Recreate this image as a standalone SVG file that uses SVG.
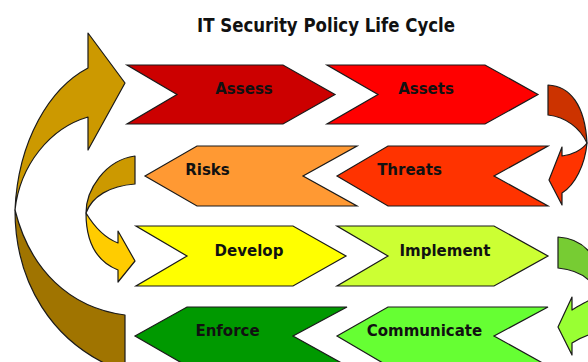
<svg xmlns="http://www.w3.org/2000/svg" width="588" height="362" viewBox="0 0 588 362">
  <style>
    .step { stroke: #1a1a1a; stroke-width: 1.2; stroke-linejoin: miter; }
    .curve { stroke: #1a1a1a; stroke-width: 1.2; stroke-linejoin: round; }
    .label { font-family: "DejaVu Sans", Verdana, sans-serif; font-weight: bold; font-size: 15px; fill: #111; text-anchor: middle; }
    .title { font-family: "DejaVu Sans", Verdana, sans-serif; font-weight: bold; font-size: 19px; fill: #111; text-anchor: middle; }
  </style>
  <rect width="588" height="362" fill="#ffffff"/>

  <text class="title" x="326" y="32" textLength="258" lengthAdjust="spacingAndGlyphs">IT Security Policy Life Cycle</text>

  <!-- curved connectors between rows -->
  <g id="connectors">
    <!-- big return arrow on the left: Enforce back to Assess -->
    <path class="curve" fill="#cc9900" d="M88,68 L88,33 L125,83 L88,150 L88,117 C50,128 20,165 15,210 C18,140 50,88 88,68 Z"/>
    <path class="curve" fill="#a07400" d="M15,210 C15,280 50,345 125,372 L125,315 C70,308 30,270 15,210 Z"/>
    <!-- Risks to Develop -->
    <path class="curve" fill="#cc9900" d="M135,156 L135,184 C110,186 92,196 86,213 C86,190 105,160 135,156 Z"/>
    <path class="curve" fill="#ffcc00" d="M86,213 C95,228 105,238 118,243 L118,231 L135,261 L118,282 L118,270 C98,262 86,245 86,213 Z"/>
    <!-- Assets to Threats -->
    <path class="curve" fill="#cc3300" d="M548,85 C570,86 585,105 587,143 C580,128 566,117 548,115 Z"/>
    <path class="curve" fill="#ff3300" d="M587,143 C585,165 575,185 562,193 L562,205 L549,180 L562,147 L562,156 C572,155 582,150 587,143 Z"/>
    <!-- Implement to Communicate -->
    <path class="curve" fill="#77cc33" d="M558,237 C575,238 588,246 596,262 L596,290 C590,278 578,270 558,268 Z"/>
    <path class="curve" fill="#99ff33" d="M596,296 C590,300 582,304 572,310 L572,297 L558,327 L572,355 L572,343 C580,338 590,334 596,333 Z"/>
  </g>

  <g id="assess">
    <polygon class="step" fill="#cc0000" points="127,65 283,65 335,94.5 283,124 127,124 177,94.5"/>
    <text class="label" x="244" y="94">Assess</text>
  </g>
  <g id="assets">
    <polygon class="step" fill="#ff0000" points="327,65 485,65 538,94.5 485,124 327,124 378,94.5"/>
    <text class="label" x="426" y="94">Assets</text>
  </g>
  <g id="risks">
    <polygon class="step" fill="#ff9933" points="145,176 197,146 357,146 303,176 357,206 197,206"/>
    <text class="label" x="207.5" y="175">Risks</text>
  </g>
  <g id="threats">
    <polygon class="step" fill="#ff3300" points="337,176 388,146 548,146 494,176 548,206 388,206"/>
    <text class="label" x="409.5" y="175">Threats</text>
  </g>
  <g id="develop">
    <polygon class="step" fill="#ffff00" points="136,226 293,226 346,256 293,286 136,286 187,256"/>
    <text class="label" x="249" y="255.5">Develop</text>
  </g>
  <g id="implement">
    <polygon class="step" fill="#ccff33" points="337,226 494,226 548,256 494,286 337,286 388,256"/>
    <text class="label" x="445" y="255.5">Implement</text>
  </g>
  <g id="enforce">
    <polygon class="step" fill="#009900" points="135,336 187,307 347,307 293,336 347,366 187,366"/>
    <text class="label" x="227.5" y="335.5">Enforce</text>
  </g>
  <g id="communicate">
    <polygon class="step" fill="#66ff33" points="337,336 388,307 548,307 494,336 548,366 388,366"/>
    <text class="label" x="424.5" y="335.5">Communicate</text>
  </g>
</svg>
